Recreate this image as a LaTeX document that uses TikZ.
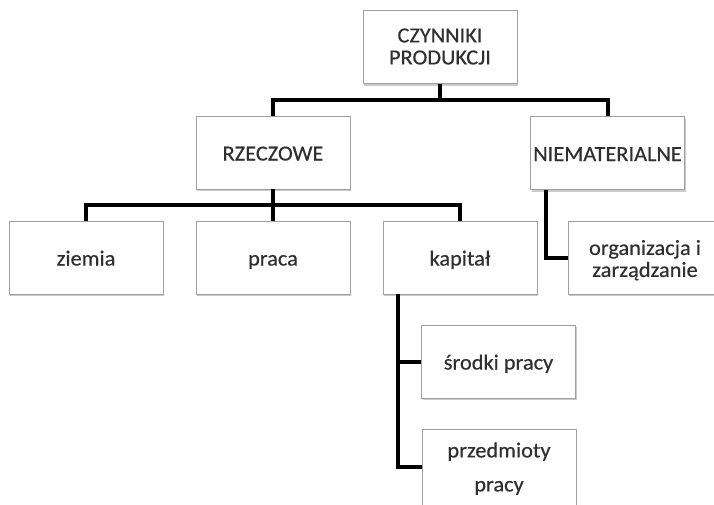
\documentclass[tikz,border=0pt]{standalone}
\usepackage{fontspec}
\setmainfont{Carlito}[FakeStretch=1.04,FakeBold=0.4]
\usetikzlibrary{shadows,calc}
\definecolor{txt}{HTML}{303030}
\definecolor{brd}{HTML}{A0A0A0}
\newcommand{\shiftdown}[2]{\raisebox{-#1}[\height][\depth]{\begin{tabular}{@{}c@{}}#2\end{tabular}}}
\begin{document}
\begin{tikzpicture}[x=1pt,y=-1pt,
  box/.style={draw=brd, line width=0.9pt, fill=white, minimum width=154pt, minimum height=73pt,
    inner sep=0pt, align=center, text=txt,
    font=\fontsize{21.5}{22}\selectfont,
    drop shadow={shadow xshift=1.2pt, shadow yshift=-2.2pt, opacity=0.35, fill=black!60}},
  one/.style={text height=16pt, text depth=0pt},
  conn/.style={line width=4pt, line join=miter, draw=black}]
\useasboundingbox (0,0) rectangle (714,504);
\clip (0,0) rectangle (714,504);
\node[box] (top) at (440,47) {\shiftdown{2pt}{CZYNNIKI\\PRODUKCJI}};
\node[box, one] (rz) at (273,152.5) {RZECZOWE};
\node[box, one] (nm) at (607.5,153) {NIEMATERIALNE};
\node[box, one] (zi) at (86,257.5) {ziemia};
\node[box, one] (pr) at (273,257.5) {praca};
\node[box, one] (ka) at (460,257.5) {kapitał};
\node[box] (org) at (645,257.5) {\shiftdown{4pt}{organizacja i\\zarządzanie}};
\node[box, one] (sr) at (498.5,361.5) {środki pracy};
\node[box, minimum height=76pt] (pd) at (499,467) {\shiftdown{3pt}{przedmioty\\[12pt]pracy}};
\draw[conn] (top.south) -- ++(0,17);
\draw[conn] (rz.north) -- ++(0,-16) -| (nm.north);
\draw[conn] (rz.south) -- ++(0,16) coordinate (j2);
\draw[conn] (zi.north) |- (j2) -| (ka.north);
\draw[conn] (j2) -- (pr.north);
\draw[conn] ($(nm.south west)+(16,0)$) |- (org.west);
\draw[conn] ($(ka.south west)+(15,0)$) |- (sr.west);
\draw[conn] ($(ka.south west)+(15,0)$) |- (pd.west);
\end{tikzpicture}
\end{document}
